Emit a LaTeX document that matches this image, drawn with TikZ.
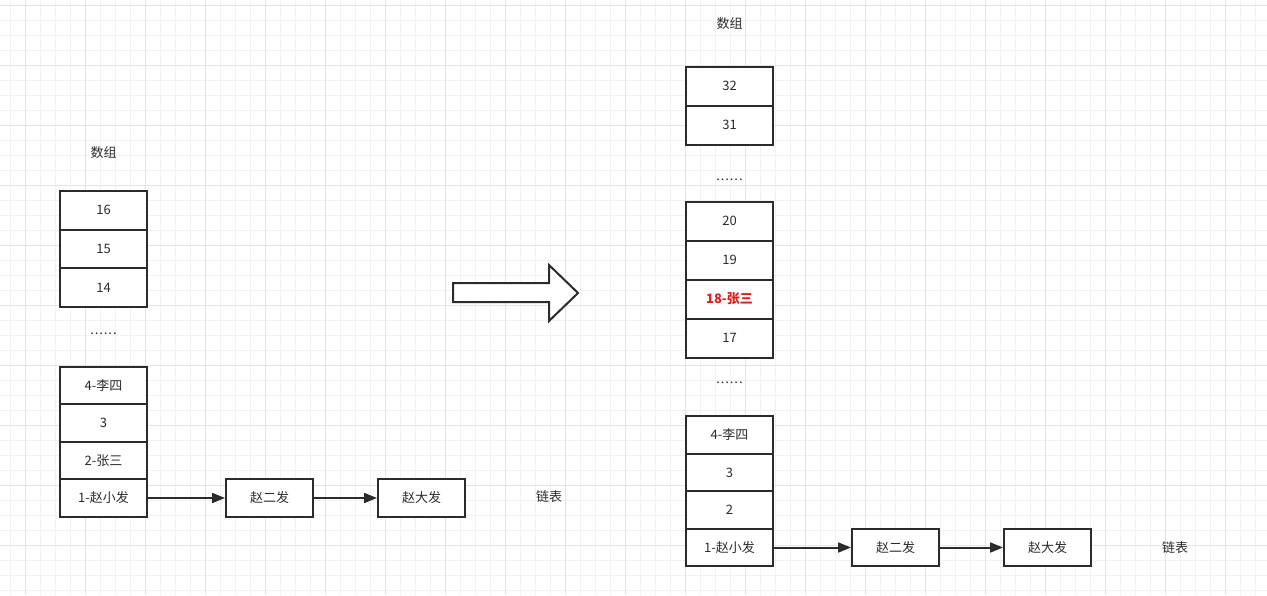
\documentclass[tikz,border=0pt]{standalone}
\usepackage{fontspec}
\setmainfont{Noto Sans CJK SC}
\usetikzlibrary{arrows.meta}

\definecolor{gridminor}{HTML}{F2F2F2}
\definecolor{gridmajor}{HTML}{E4E4E4}
\definecolor{ink}{HTML}{2B2B2B}
\definecolor{hot}{HTML}{E01E1E}

\tikzset{
  cell/.style={draw=ink, line width=2pt, fill=white, minimum width=87pt, minimum height=39pt, inner sep=0pt, text=ink, font=\fontsize{13}{15}\selectfont},
  lowcell/.style={cell, minimum height=37.5pt},
  tag/.style={text=ink, inner sep=1pt, font=\fontsize{13}{15}\selectfont},
  dots/.style={tag, font=\fontsize{13}{15}\selectfont\addfontfeature{LetterSpace=7}},
  link/.style={draw=ink, line width=2pt, -{Triangle[length=13pt,width=10pt]}},
}

\begin{document}
\begin{tikzpicture}[x=1pt, y=-1pt]
\useasboundingbox (0,0) rectangle (1267,595);
\fill[white] (0,0) rectangle (1267,595);

% grid
\foreach \gx in {10,25,...,1265} \draw[gridminor, line width=1pt] (\gx,0) -- (\gx,595);
\foreach \gy in {5,20,...,590} \draw[gridminor, line width=1pt] (0,\gy) -- (1267,\gy);
\foreach \gx in {25,85,...,1265} \draw[gridmajor, line width=1pt] (\gx,0) -- (\gx,595);
\foreach \gy in {5,65,...,590} \draw[gridmajor, line width=1pt] (0,\gy) -- (1267,\gy);

% left: before
\node[tag] (ltitle) at (103.5,153) {数组};

\node[cell] (l16) at (103.5,210) {16};
\node[cell] (l15) at (103.5,249) {15};
\node[cell] (l14) at (103.5,287.5) {14};

\node[dots] (ldots) at (103.5,334) {......};

\node[lowcell] (l4) at (103.5,385.5) {4-李四};
\node[lowcell] (l3) at (103.5,423) {3};
\node[lowcell] (l2) at (103.5,460.5) {2-张三};
\node[lowcell] (l1) at (103.5,498) {1-赵小发};

\node[lowcell] (lzer) at (269.5,498) {赵二发};
\node[lowcell] (lzda) at (421.5,498) {赵大发};
\node[tag] (llist) at (549,497) {链表};

\draw[link] (l1) -- (lzer);
\draw[link] (lzer) -- (lzda);

% big arrow
\draw[ink, fill=white, line width=2pt] (453,283) -- (549,283) -- (549,265) -- (578,293)
  -- (549,321) -- (549,302) -- (453,302) -- cycle;

% right: after
\node[tag] (rtitle) at (729.5,24) {数组};

\node[cell] (r32) at (729.5,86) {32};
\node[cell] (r31) at (729.5,125) {31};

\node[dots] (rdotsa) at (729.5,180) {......};

\node[cell] (r20) at (729.5,221) {20};
\node[cell] (r19) at (729.5,260) {19};
\node[cell, text=hot, font=\fontsize{13}{15}\selectfont\bfseries] (r18) at (729.5,299) {18-张三};
\node[cell] (r17) at (729.5,338) {17};

\node[dots] (rdotsb) at (729.5,383) {......};

\node[lowcell] (r4) at (729.5,435) {4-李四};
\node[lowcell] (r3) at (729.5,472.5) {3};
\node[lowcell] (r2) at (729.5,510) {2};
\node[lowcell] (r1) at (729.5,547.5) {1-赵小发};

\node[lowcell] (rzer) at (895.5,547.5) {赵二发};
\node[lowcell] (rzda) at (1047.5,547.5) {赵大发};
\node[tag] (rlist) at (1175,548) {链表};

\draw[link] (r1) -- (rzer);
\draw[link] (rzer) -- (rzda);
\end{tikzpicture}
\end{document}
